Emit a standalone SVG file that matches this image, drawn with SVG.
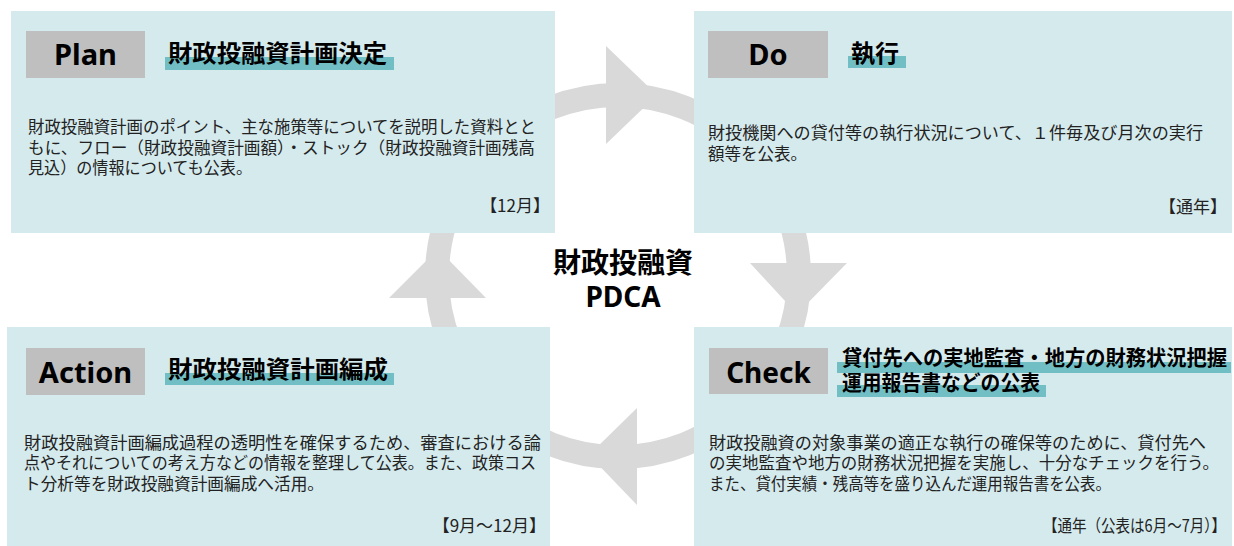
<svg xmlns="http://www.w3.org/2000/svg" width="1234" height="546" viewBox="0 0 1234 546">
  <style>
    .box { fill: #d5eaed; }
    .tag { fill: #bfbfbf; }
    .bar { fill: #71bfc5; }
    .ring { fill: none; stroke: #d9d9d9; stroke-width: 24; }
    .head { fill: #d9d9d9; }
    .lbl { font-family: "Noto Sans", "Liberation Sans", sans-serif; font-weight: bold; font-size: 29px; fill: #000; text-anchor: middle; }
    .ttl { font-family: "Noto Sans CJK JP", sans-serif; font-weight: bold; font-size: 24px; fill: #000; }
    .ttl2 { font-family: "Noto Sans CJK JP", sans-serif; font-weight: bold; font-size: 21px; fill: #000; }
    .body { font-family: "Noto Sans CJK JP", sans-serif; font-size: 16.5px; fill: #222; }
    .date { font-family: "Noto Sans CJK JP", sans-serif; font-size: 17px; fill: #222; text-anchor: end; }
    .center { font-family: "Noto Sans CJK JP", sans-serif; font-weight: bold; font-size: 28px; fill: #000; text-anchor: middle; }
    .centerEn { font-family: "Noto Sans", "Liberation Sans", sans-serif; font-weight: bold; font-size: 28px; fill: #000; text-anchor: middle; }
  </style>

  <rect width="1234" height="546" fill="#ffffff"/>

  <g id="connectors">
    <circle class="ring" cx="618" cy="276" r="181"/>
    <polygon class="head" points="606,46 657,95 606,144"/>
    <polygon class="head" points="750,263 847,263 797,314"/>
    <polygon class="head" points="637,408 589,455 637,505"/>
    <polygon class="head" points="389,298 486,298 438,249"/>
  </g>

  <g id="plan">
    <rect class="box" x="11" y="11" width="544" height="222"/>
    <rect class="tag" x="26" y="31" width="119" height="47"/>
    <text class="lbl" x="85.5" y="65">Plan</text>
    <rect class="bar" x="165" y="57" width="229" height="13"/>
    <text class="ttl" x="168" y="62" textLength="219" lengthAdjust="spacingAndGlyphs">財政投融資計画決定</text>
    <text class="body" x="28" y="133" textLength="508" lengthAdjust="spacingAndGlyphs">財政投融資計画のポイント、主な施策等についてを説明した資料とと</text>
    <text class="body" x="28" y="153.5" textLength="507" lengthAdjust="spacingAndGlyphs">もに、フロー（財政投融資計画額）・ストック（財政投融資計画残高</text>
    <text class="body" x="28" y="174" textLength="224" lengthAdjust="spacingAndGlyphs">見込）の情報についても公表。</text>
    <text class="date" x="550" y="212">【12月】</text>
  </g>

  <g id="do">
    <rect class="box" x="694" y="11" width="538" height="222"/>
    <rect class="tag" x="708" y="31" width="120" height="47"/>
    <text class="lbl" x="768" y="65">Do</text>
    <rect class="bar" x="848" y="56" width="58" height="12"/>
    <text class="ttl" x="851" y="62">執行</text>
    <text class="body" x="708" y="139" textLength="495" lengthAdjust="spacingAndGlyphs">財投機関への貸付等の執行状況について、１件毎及び月次の実行</text>
    <text class="body" x="708" y="159.5">額等を公表。</text>
    <text class="date" x="1227" y="213">【通年】</text>
  </g>

  <g id="action">
    <rect class="box" x="7" y="327" width="543" height="219"/>
    <rect class="tag" x="26" y="348" width="119" height="47"/>
    <text class="lbl" x="85.5" y="383">Action</text>
    <rect class="bar" x="165" y="373" width="229" height="12"/>
    <text class="ttl" x="168" y="378" textLength="220" lengthAdjust="spacingAndGlyphs">財政投融資計画編成</text>
    <text class="body" x="24" y="448.5" textLength="517" lengthAdjust="spacingAndGlyphs">財政投融資計画編成過程の透明性を確保するため、審査における論</text>
    <text class="body" x="24" y="469" textLength="512" lengthAdjust="spacingAndGlyphs">点やそれについての考え方などの情報を整理して公表。また、政策コス</text>
    <text class="body" x="24" y="489.5" textLength="300" lengthAdjust="spacingAndGlyphs">ト分析等を財政投融資計画編成へ活用。</text>
    <text class="date" x="546" y="532">【9月～12月】</text>
  </g>

  <g id="check">
    <rect class="box" x="694" y="327" width="538" height="219"/>
    <rect class="tag" x="709" y="348" width="119" height="46"/>
    <text class="lbl" x="768.5" y="383" style="font-size:28px">Check</text>
    <rect class="bar" x="837" y="362" width="394" height="11"/>
    <rect class="bar" x="837" y="385" width="209" height="12"/>
    <text class="ttl2" x="842" y="365" textLength="385" lengthAdjust="spacingAndGlyphs">貸付先への実地監査・地方の財務状況把握</text>
    <text class="ttl2" x="842" y="390" textLength="198" lengthAdjust="spacingAndGlyphs">運用報告書などの公表</text>
    <text class="body" x="709" y="448.5" textLength="497" lengthAdjust="spacingAndGlyphs">財政投融資の対象事業の適正な執行の確保等のために、貸付先へ</text>
    <text class="body" x="709" y="469" textLength="510" lengthAdjust="spacingAndGlyphs">の実地監査や地方の財務状況把握を実施し、十分なチェックを行う。</text>
    <text class="body" x="709" y="489.5" textLength="402" lengthAdjust="spacingAndGlyphs">また、貸付実績・残高等を盛り込んだ運用報告書を公表。</text>
    <text class="date" x="1226" y="532" textLength="183" lengthAdjust="spacingAndGlyphs">【通年（公表は6月～7月）】</text>
  </g>

  <g id="center">
    <text class="center" x="623" y="273">財政投融資</text>
    <text class="centerEn" x="623" y="307">PDCA</text>
  </g>
</svg>
